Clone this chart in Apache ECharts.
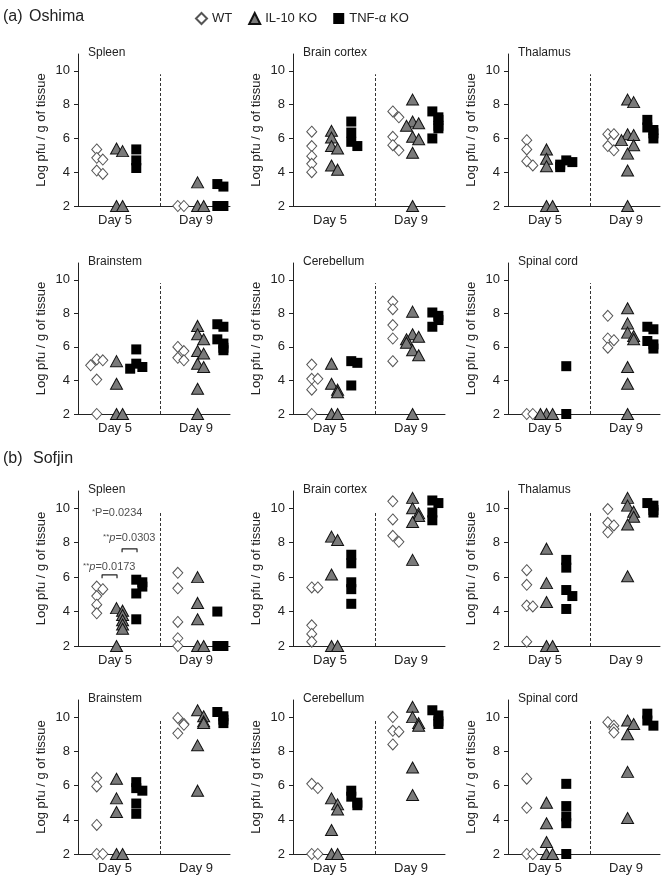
<!DOCTYPE html>
<html>
<head>
<meta charset="utf-8">
<script src="https://cdn.jsdelivr.net/npm/echarts@6/dist/echarts.min.js"></script>
<style>
  html, body { margin: 0; padding: 0; background: #fff; }
  #chart { width: 670px; height: 881px; }
</style>
</head>
<body>
<div id="chart"></div>
<script>
// categories
var days = ['Day 5', 'Day 9'];
var strains = ['WT', 'IL-10 KO', 'TNF-α KO'];
var tissues = ['Spleen', 'Brain cortex', 'Thalamus', 'Brainstem', 'Cerebellum', 'Spinal cord'];
var yTicks = [2, 4, 6, 8, 10];

// (a) Oshima  -- each array: [day 5 values, day 9 values]
var oSpleenWT = [[5.35, 4.85, 4.75, 4.1, 3.9], [2, 2]];
var oSpleenIL = [[5.4, 5.25, 2, 2], [3.4, 2, 2]];
var oSpleenTNF = [[5.35, 4.7, 4.25], [3.3, 3.15, 2, 2]];

var oCortexWT = [[6.4, 5.55, 4.95, 4.5, 4.0], [7.6, 7.25, 6.1, 5.6, 5.3]];
var oCortexIL = [[6.45, 6.05, 5.55, 5.4, 4.4, 4.15], [8.3, 7.0, 6.9, 6.75, 6.1, 5.95, 5.15, 2]];
var oCortexTNF = [[7.0, 6.35, 5.8, 5.55], [7.6, 7.25, 7.1, 6.75, 6.6, 6.0]];

var oThalWT = [[5.9, 5.35, 4.65, 4.4], [6.25, 6.25, 5.55, 5.3]];
var oThalIL = [[5.35, 4.8, 4.35, 2, 2], [8.3, 8.15, 6.25, 6.2, 5.9, 5.6, 5.1, 4.1, 2]];
var oThalTNF = [[4.7, 4.6, 4.45, 4.3], [7.1, 6.65, 6.5, 6.3, 6.0]];

var oStemWT = [[5.25, 5.2, 4.9, 4.05, 2], [6.0, 5.75, 5.35, 5.2]];
var oStemIL = [[5.15, 3.8, 2, 2], [7.25, 6.75, 6.45, 5.75, 5.6, 5.0, 4.8, 3.5, 2]];
var oStemTNF = [[5.85, 5.0, 4.8, 4.7], [7.35, 7.2, 6.45, 6.2, 5.95, 5.8]];

var oCereWT = [[4.95, 4.1, 4.1, 3.45, 2], [8.7, 8.25, 7.3, 6.5, 5.15]];
var oCereIL = [[5.0, 3.8, 3.45, 3.3, 2, 2], [8.1, 6.75, 6.6, 6.45, 6.25, 5.8, 5.5, 2]];
var oCereTNF = [[5.15, 5.05, 3.7], [8.05, 7.85, 7.6, 7.2]];

var oCordWT = [[2, 2], [7.85, 6.5, 6.4, 5.95]];
var oCordIL = [[2, 2, 2], [8.3, 7.4, 6.85, 6.65, 6.45, 4.8, 3.8, 2]];
var oCordTNF = [[4.85, 2], [7.2, 7.05, 6.35, 6.15, 5.9]];

// (b) Sofjin
var sSpleenWT = [[5.45, 5.3, 4.9, 4.4, 3.9], [6.25, 5.35, 3.4, 2.45, 2]];
var sSpleenIL = [[4.2, 4.05, 3.8, 3.5, 3.25, 3.0, 2], [6.0, 4.5, 3.55, 2, 2]];
var sSpleenTNF = [[5.85, 5.7, 5.45, 5.05, 3.55], [4.0, 2, 2]];

var sCortexWT = [[5.4, 5.4, 3.2, 2.7, 2.25], [10.4, 9.35, 8.4, 8.05]];
var sCortexIL = [[8.35, 8.15, 6.15, 2, 2], [10.6, 10.0, 9.7, 9.55, 9.2, 7.0]];
var sCortexTNF = [[7.3, 6.8, 5.7, 5.3, 4.45], [10.45, 10.3, 9.75, 9.3]];

var sThalWT = [[6.4, 5.55, 4.35, 4.3, 2.25], [9.95, 9.15, 9.0, 8.6]];
var sThalIL = [[7.65, 5.65, 4.55, 2, 2], [10.6, 10.15, 9.8, 9.5, 9.05, 6.05]];
var sThalTNF = [[7.0, 6.55, 5.25, 4.9, 4.15], [10.3, 10.15, 9.9, 9.75]];

var sStemWT = [[6.45, 5.95, 3.7, 2, 2], [9.95, 9.6, 9.55, 9.05]];
var sStemIL = [[6.4, 5.25, 4.45, 2, 2], [10.4, 10.05, 9.75, 9.65, 8.35, 5.7]];
var sStemTNF = [[6.2, 5.85, 5.7, 4.95, 4.35], [10.3, 10.05, 9.85, 9.65]];

var sCereWT = [[6.1, 5.85, 2, 2], [10.0, 9.2, 9.15, 8.4]];
var sCereIL = [[5.25, 4.9, 4.6, 3.4, 2, 2], [10.6, 10.0, 9.65, 9.5, 7.05, 5.45]];
var sCereTNF = [[5.7, 5.35, 5.0, 4.85], [10.4, 10.1, 9.75, 9.6]];

var sCordWT = [[6.4, 4.7, 2, 2], [9.7, 9.5, 9.3, 9.1]];
var sCordIL = [[5.0, 3.8, 2.7, 2, 2], [9.8, 9.6, 9.0, 6.8, 4.1]];
var sCordTNF = [[6.1, 4.8, 4.2, 3.8, 2], [10.2, 9.8, 9.5]];

// significance labels on Sofjin spleen
var sigTexts = ['{s|*}P=0.0234', '{s|**}{i|p}=0.0303', '{s|**}{i|p}=0.0173'];
var sigLevels = [9.73, 8.28, 6.59];
var bracketLevels = [7.64, 6.13];

var panels = [
	[oSpleenWT, oSpleenIL, oSpleenTNF], [oCortexWT, oCortexIL, oCortexTNF], [oThalWT, oThalIL, oThalTNF],
	[oStemWT, oStemIL, oStemTNF], [oCereWT, oCereIL, oCereTNF], [oCordWT, oCordIL, oCordTNF],
	[sSpleenWT, sSpleenIL, sSpleenTNF], [sCortexWT, sCortexIL, sCortexTNF], [sThalWT, sThalIL, sThalTNF],
	[sStemWT, sStemIL, sStemTNF], [sCereWT, sCereIL, sCereTNF], [sCordWT, sCordIL, sCordTNF]
];

var FONT = '"Liberation Sans", Arial, sans-serif';
var colLeft = [78, 293, 508];
var rowTop = [54, 263, 491, 700];
var rowHeight = [152, 151, 155, 154];
var dayCenter = [1.52, 4.72];
var strainOffset = [-0.78, 0, 0.78];
var dividerX = 3.24;

var markerStyles = [
	{ symbol: 'diamond', symbolSize: [10, 11], itemStyle: { color: '#fff', borderColor: '#555', borderWidth: 1, opacity: 1 } },
	{ symbol: 'triangle', symbolSize: [12, 11], itemStyle: { color: '#7a7a7a', borderColor: '#111', borderWidth: 1, opacity: 1 } },
	{ symbol: 'rect', symbolSize: 10, itemStyle: { color: '#000', borderColor: '#000', borderWidth: 0, opacity: 1 } }
];

// place points side by side when values are close (beeswarm-like)
function spread(vals, center) {
	return vals.map(function(v, i) {
		var n = 0;
		for (var j = 0; j < i; j++) if (Math.abs(vals[j] - v) < 0.35) n++;
		var k = Math.ceil(n / 2);
		var off = n === 0 ? 0 : (n % 2 ? 1 : -1) * 0.24 * k;
		return [center + off, v];
	});
}

var grids = [], xAxes = [], yAxes = [], series = [], titles = [];

panels.forEach(function(p, i) {
	var row = Math.floor(i / 3), col = i % 3;
	grids.push({ left: colLeft[col], top: rowTop[row], width: 152, height: rowHeight[row] });
	titles.push({
		text: tissues[i % 6], left: colLeft[col] + 10, top: rowTop[row] - 7, padding: 0,
		textStyle: { fontSize: 12, fontWeight: 'normal', color: '#222', fontFamily: FONT }
	});
	xAxes.push({
		gridIndex: i, type: 'value', min: 0, max: 6,
		axisLine: { show: true, lineStyle: { color: '#222', width: 1 } },
		axisTick: { show: false }, splitLine: { show: false },
		axisLabel: {
			customValues: [1.46, 4.66], margin: 8, fontSize: 13, color: '#222', fontFamily: FONT,
			formatter: function(v) { return v < 3 ? days[0] : days[1]; }
		}
	});
	yAxes.push({
		gridIndex: i, type: 'value', min: 2, max: 11,
		name: 'Log pfu / g of tissue', nameLocation: 'middle', nameGap: 30,
		nameTextStyle: { fontSize: 13, color: '#222', fontFamily: FONT },
		axisLine: { show: true, lineStyle: { color: '#222', width: 1 } },
		axisTick: { show: true, customValues: yTicks, length: 4, lineStyle: { color: '#222' } },
		axisLabel: { customValues: yTicks, fontSize: 13, color: '#222', margin: 8, fontFamily: FONT },
		splitLine: { show: false }
	});
	p.forEach(function(arr, s) {
		var pts = [];
		arr.forEach(function(vals, d) {
			pts = pts.concat(spread(vals, dayCenter[d] + strainOffset[s]));
		});
		var ser = {
			type: 'scatter', name: strains[s], xAxisIndex: i, yAxisIndex: i,
			symbol: markerStyles[s].symbol, symbolSize: markerStyles[s].symbolSize,
			itemStyle: markerStyles[s].itemStyle, data: pts, z: 3 + s, silent: true
		};
		if (s === 0) {
			ser.markLine = {
				silent: true, symbol: 'none', label: { show: false },
				lineStyle: { type: [3, 2], color: '#333', width: 1 },
				data: [[{ coord: [dividerX, 2] }, { coord: [dividerX, 9.8] }]]
			};
		}
		series.push(ser);
	});
});

// significance annotations (Sofjin spleen, grid 6)
series.push({
	type: 'scatter', xAxisIndex: 6, yAxisIndex: 6, symbolSize: 0, silent: true, z: 6,
	data: [[0.55, sigLevels[0]], [0.99, sigLevels[1]], [0.2, sigLevels[2]]].map(function(pt, k) {
		return { value: pt, label: { formatter: sigTexts[k] } };
	}),
	label: {
		show: true, position: 'inside', align: 'left', verticalAlign: 'middle',
		fontSize: 11, color: '#222', fontFamily: FONT,
		rich: { s: { fontSize: 8, verticalAlign: 'top', color: '#222' }, i: { fontStyle: 'italic', fontSize: 11, color: '#222' } }
	}
});
[[1.74, 2.33, bracketLevels[0]], [0.95, 1.54, bracketLevels[1]]].forEach(function(b) {
	series.push({
		type: 'line', xAxisIndex: 6, yAxisIndex: 6, symbol: 'none', silent: true, z: 6,
		lineStyle: { color: '#222', width: 1.2 },
		data: [[b[0], b[2] - 0.2], [b[0], b[2]], [b[1], b[2]], [b[1], b[2] - 0.2]]
	});
});

var option = {
	animation: false,
	textStyle: { fontFamily: FONT },
	title: titles,
	legend: {
		top: 7, left: 190, itemWidth: 11, itemHeight: 11, itemGap: 16,
		textStyle: { fontSize: 13, color: '#222', fontFamily: '"Liberation Sans Narrow", "Liberation Sans", Arial, sans-serif' },
		data: [
			{ name: strains[0], icon: 'diamond' },
			{ name: strains[1], icon: 'triangle' },
			{ name: strains[2], icon: 'rect' }
		]
	},
	graphic: [
		{ type: 'text', left: 3, top: 9, style: { text: '(a)', fontSize: 16, fill: '#222', fontFamily: FONT } },
		{ type: 'text', left: 29, top: 9, style: { text: 'Oshima', fontSize: 16, fill: '#222', fontFamily: FONT } },
		{ type: 'text', left: 3, top: 451, style: { text: '(b)', fontSize: 16, fill: '#222', fontFamily: FONT } },
		{ type: 'text', left: 33, top: 451, style: { text: 'Sofjin', fontSize: 16, fill: '#222', fontFamily: FONT } }
	],
	grid: grids,
	xAxis: xAxes,
	yAxis: yAxes,
	series: series
};

var myChart = echarts.init(document.getElementById('chart'));
myChart.setOption(option);
</script>
</body>
</html>
